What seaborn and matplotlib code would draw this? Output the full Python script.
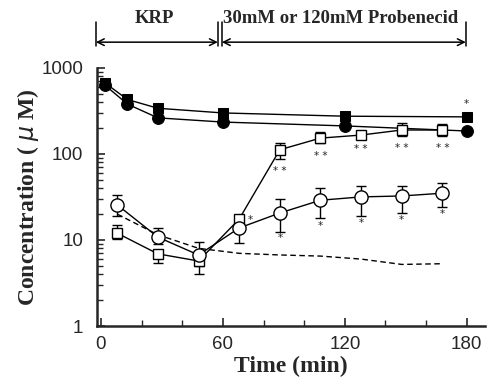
import matplotlib
matplotlib.use("Agg")
import matplotlib.pyplot as plt
import matplotlib.transforms as mtransforms
from matplotlib.ticker import FixedLocator, FixedFormatter, LogLocator, NullFormatter
import seaborn as sns
import numpy as np

# filled symbols (top two series)
fill_t = [2, 13, 28, 60, 120, 180]
fsq_v = [670, 430, 340, 300, 275, 270]
fci_v = [630, 380, 263, 235, 212, 185]

# open symbols, sampled mid-interval
open_t = [8, 28, 48, 68, 88, 108, 128, 148, 168]
osq_v = [12, 6.9, 5.7, 17.5, 112, 153, 166, 190, 190]
osq_hi = [15, 7.5, 7.0, 17.5, 134, 180, 166, 227, 224]
osq_lo = [10.3, 5.4, 4.0, 17.5, 87, 134, 166, 162, 162]
oci_v = [25.6, 10.8, 6.7, 13.8, 20.6, 29, 31.7, 32.5, 35]
oci_hi = [33, 13.8, 9.5, 16, 30, 40, 42.5, 42.5, 46]
oci_lo = [19, 9.0, 5.0, 9.2, 12.4, 18, 19, 20.6, 24]

# dashed reference curve
dash_t = [8, 28, 48, 68, 88, 108, 128, 148, 168]
dash_v = [20, 11.5, 8.0, 7.0, 6.7, 6.5, 6.0, 5.2, 5.3]

# significance marks
sq_star_t = [88, 108, 128, 148, 168]
sq_star_y = [63, 95, 114, 117, 117]
ci_star_t = [88, 108, 128, 148, 168]
ci_star_y = [10.5, 14.5, 15.8, 17.1, 20]

sns.set_style("ticks")
plt.rcParams['font.family'] = ['Liberation Serif', 'DejaVu Serif']

fig = plt.figure(figsize=(4.97, 3.84), dpi=100)
ax = fig.add_axes([0.195, 0.151, 0.781, 0.672])

# error bars first so the open markers cover them
ax.errorbar(open_t, osq_v, yerr=[np.array(osq_v) - np.array(osq_lo), np.array(osq_hi) - np.array(osq_v)],
            fmt='none', ecolor='k', elinewidth=1, capsize=3.5, capthick=1, zorder=2)
ax.errorbar(open_t, oci_v, yerr=[np.array(oci_v) - np.array(oci_lo), np.array(oci_hi) - np.array(oci_v)],
            fmt='none', ecolor='k', elinewidth=1, capsize=3.5, capthick=1, zorder=2)

sns.lineplot(x=dash_t, y=dash_v, color='k', lw=1, linestyle=(0, (4, 2.5)), ax=ax, zorder=1)
sns.lineplot(x=fill_t, y=fsq_v, color='k', lw=1, marker='s', markersize=7.5,
             markerfacecolor='k', markeredgecolor='k', ax=ax, zorder=3)
sns.lineplot(x=fill_t, y=fci_v, color='k', lw=1, marker='o', markersize=8.5,
             markerfacecolor='k', markeredgecolor='k', ax=ax, zorder=3)
sns.lineplot(x=open_t, y=osq_v, color='k', lw=1, marker='s', markersize=7.5,
             markerfacecolor='white', markeredgecolor='k', markeredgewidth=1, ax=ax, zorder=4)
sns.lineplot(x=open_t, y=oci_v, color='k', lw=1, marker='o', markersize=9.5,
             markerfacecolor='white', markeredgecolor='k', markeredgewidth=1, ax=ax, zorder=4)

for t, y in zip(sq_star_t, sq_star_y):
    ax.text(t, y, '* *', ha='center', va='center', fontsize=7.5, family='DejaVu Sans')
for t, y in zip(ci_star_t, ci_star_y):
    ax.text(t, y, '*', ha='center', va='center', fontsize=7.5, family='DejaVu Sans')
ax.text(73.5, 17, '*', ha='center', va='center', fontsize=7.5, family='DejaVu Sans')
ax.text(180, 380, '*', ha='center', va='center', fontsize=7.5, family='DejaVu Sans')

ax.set_yscale('log')
ax.set_ylim(1, 1000)
ax.set_xlim(-2, 189)
ax.yaxis.set_major_locator(FixedLocator([1, 10, 100, 1000]))
ax.yaxis.set_major_formatter(FixedFormatter(['1', '10', '100', '1000']))
ax.yaxis.set_minor_locator(LogLocator(base=10, subs=np.arange(2, 10)))
ax.yaxis.set_minor_formatter(NullFormatter())
ax.xaxis.set_major_locator(FixedLocator([0, 60, 120, 180]))
ax.xaxis.set_minor_locator(FixedLocator([20, 40, 80, 100, 140, 160]))

ax.tick_params(which='major', direction='in', length=6, width=1.2, labelsize=13.5)
ax.tick_params(axis='y', which='major', pad=10)
ax.tick_params(axis='x', which='major', pad=7)
ax.tick_params(which='minor', direction='in', length=4, width=1)
for lab in ax.get_xticklabels() + ax.get_yticklabels():
    lab.set_family(['Liberation Sans Narrow', 'Liberation Sans'])

sns.despine(ax=ax)
for s in ['left', 'bottom']:
    ax.spines[s].set_linewidth(1.8)

ax.set_xlabel('Time (min)', fontsize=17, fontweight='bold', labelpad=2)
ax.set_ylabel('Concentration ( $\\mu$ M)', fontsize=17, fontweight='bold', labelpad=0)

# treatment period arrows above the plot
trans = mtransforms.blended_transform_factory(ax.transData, ax.transAxes)
arr_y = 1.10
ax.annotate('', xy=(57.5, arr_y), xytext=(-2.5, arr_y), xycoords=trans, textcoords=trans,
            arrowprops=dict(arrowstyle='<->', color='k', lw=1.1, mutation_scale=12,
                            shrinkA=0, shrinkB=0), annotation_clip=False)
ax.annotate('', xy=(179.5, arr_y), xytext=(59.5, arr_y), xycoords=trans, textcoords=trans,
            arrowprops=dict(arrowstyle='<->', color='k', lw=1.1, mutation_scale=12,
                            shrinkA=0, shrinkB=0), annotation_clip=False)
for xb in [-2.5, 57.5, 59.5, 179.5]:
    ax.plot([xb, xb], [1.085, 1.18], transform=trans, color='k', lw=1.1, clip_on=False)
ax.text(26.5, 1.19, 'KRP', transform=trans, ha='center', va='center', fontsize=13.5, fontweight='bold')
ax.text(118, 1.19, '30mM or 120mM Probenecid', transform=trans, ha='center', va='center',
        fontsize=13.5, fontweight='bold')

fig.savefig('out.png', dpi=100)
